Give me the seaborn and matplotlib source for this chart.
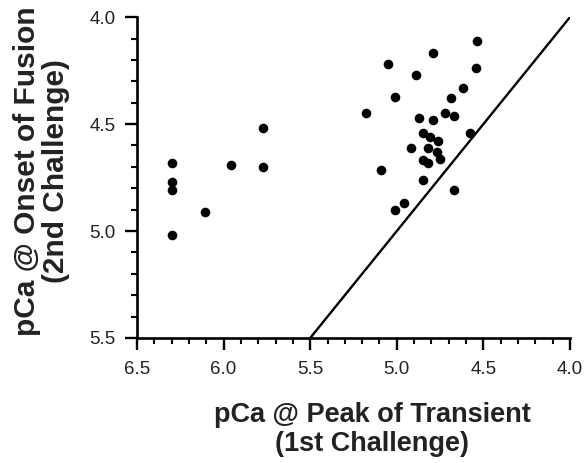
import matplotlib as mpl
from matplotlib import pyplot as plt
from matplotlib.ticker import MultipleLocator
import pandas as pd
import seaborn as sns

# pCa at peak of transient (1st challenge)
peak_pca = [6.30, 6.30, 6.30, 6.30, 6.11, 5.96, 5.77, 5.77,
            4.535, 4.79, 5.05, 4.89, 4.54, 4.62, 5.01, 4.685, 5.18, 4.72,
            4.67, 4.87, 4.79, 4.58, 4.85, 4.81, 4.76, 4.92, 4.82, 4.77,
            4.75, 4.85, 4.82, 5.09, 4.85, 4.67, 4.96, 5.01]

# pCa at onset of fusion (2nd challenge)
onset_pca = [4.68, 4.77, 4.81, 5.02, 4.91, 4.69, 4.52, 4.70,
             4.11, 4.17, 4.22, 4.27, 4.24, 4.33, 4.375, 4.38, 4.45, 4.45,
             4.46, 4.47, 4.48, 4.54, 4.54, 4.56, 4.58, 4.61, 4.61, 4.63,
             4.665, 4.67, 4.68, 4.715, 4.76, 4.81, 4.87, 4.90]

# identity line
line_x = [5.5, 4.0]
line_y = [5.5, 4.0]

x_ticks = [6.5, 6.0, 5.5, 5.0, 4.5, 4.0]
y_ticks = [4.0, 4.5, 5.0, 5.5]

sns.set_style("ticks")
plt.rcParams['font.family'] = ['Liberation Sans', 'DejaVu Sans']

df = pd.DataFrame({'peak': peak_pca, 'onset': onset_pca})

fig = plt.figure(figsize=(5.84, 4.63), dpi=100)
axes = fig.add_axes([0.2346, 0.27, 0.976 - 0.2346, 0.963 - 0.27])

# Scatter of the cells
sns.scatterplot(data=df, x='peak', y='onset', ax=axes, s=48, color='black',
                edgecolor='black', linewidth=0, zorder=3)

# Line of identity
axes.plot(line_x, line_y, color='black', lw=1.7, solid_capstyle='butt')

axes.set_xlim(6.5, 4.0)
axes.set_ylim(5.5, 4.0)

axes.set_xticks(x_ticks)
axes.set_yticks(y_ticks)
axes.set_xticklabels([f"{v:.1f}" for v in x_ticks])
axes.set_yticklabels([f"{v:.1f}" for v in y_ticks])
axes.xaxis.set_minor_locator(MultipleLocator(0.1))
axes.yaxis.set_minor_locator(MultipleLocator(0.1))

axes.tick_params(which='major', length=8.5, width=1.7, labelsize=13.5,
                 color='black', labelcolor='#222222')
axes.tick_params(which='minor', length=4, width=1.5, color='black')
axes.tick_params(axis='x', pad=8)
axes.tick_params(axis='y', pad=7)

for side in ['left', 'bottom']:
    axes.spines[side].set_linewidth(1.9)
    axes.spines[side].set_color('black')
for side in ['top', 'right']:
    axes.spines[side].set_visible(False)

axes.set_xlabel('pCa @ Peak of Transient\n(1st Challenge)', fontsize=19.5,
                fontweight='bold', color='#222222', linespacing=1.15)
axes.set_ylabel('pCa @ Onset of Fusion\n(2nd Challenge)', fontsize=21.5,
                fontweight='bold', color='#222222', linespacing=1.05)
axes.xaxis.set_label_coords(0.543, -0.2)
axes.yaxis.set_label_coords(-0.155, 0.52)

fig.savefig('out.png', dpi=100)
